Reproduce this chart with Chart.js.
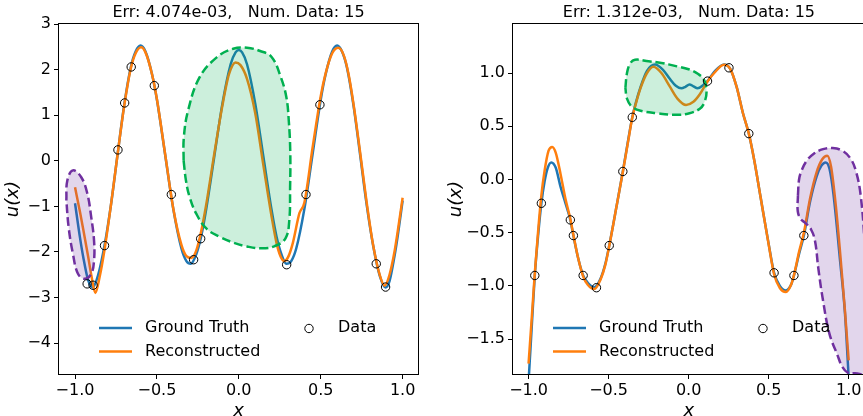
<!DOCTYPE html>
<html lang="en">
<head>
<meta charset="UTF-8" />
<title>Ground truth vs reconstruction</title>
<script src="https://cdn.jsdelivr.net/npm/chart.js@4.4.1/dist/chart.umd.min.js"></script>
<style>
  html, body { margin: 0; padding: 0; background: #fff; overflow: hidden; width: 863px; height: 416px; }
  canvas { position: absolute; top: 0; }
  #c1 { left: 0; }
  #c2 { left: 430px; }
</style>
</head>
<body>
<canvas id="c1" width="430" height="416"></canvas>
<canvas id="c2" width="441" height="416"></canvas>
<script>
const FONT = "'DejaVu Sans', sans-serif"
const BLUE = "#1f77b4"
const ORANGE = "#ff7f0e"
const legendLabels = ["Ground Truth", "Reconstructed", "Data"]

// ---- left panel ----
const leftTitle = "Err: 4.074e-03,   Num. Data: 15"
const leftXTicks = [-1, -0.5, 0, 0.5, 1]
const leftYTicks = [-4, -3, -2, -1, 0, 1, 2, 3]
const leftTruth = [
  [-1.00, -0.93], [-0.97, -1.68], [-0.95, -2.11], [-0.92, -2.62], [-0.893, -2.78], [-0.86, -2.52],
  [-0.82, -1.86], [-0.78, -0.95], [-0.74, 0.15], [-0.70, 1.22], [-0.66, 2.05], [-0.63, 2.40],
  [-0.60, 2.53], [-0.57, 2.40], [-0.53, 1.90], [-0.50, 1.34], [-0.45, 0.14], [-0.40, -1.06],
  [-0.35, -1.93], [-0.32, -2.20], [-0.294, -2.26], [-0.26, -2.05], [-0.23, -1.66], [-0.20, -1.08],
  [-0.15, 0.09], [-0.10, 1.26], [-0.05, 2.12], [-0.02, 2.38], [0.00, 2.43], [0.02, 2.38],
  [0.05, 2.12], [0.10, 1.26], [0.15, 0.09], [0.20, -1.08], [0.23, -1.66], [0.26, -2.05],
  [0.29, -2.26], [0.32, -2.20], [0.35, -1.93], [0.40, -1.06], [0.45, 0.14], [0.50, 1.34],
  [0.53, 1.90], [0.57, 2.40], [0.60, 2.53], [0.63, 2.40], [0.66, 2.05], [0.70, 1.22],
  [0.74, 0.15], [0.78, -0.95], [0.82, -1.86], [0.86, -2.52], [0.896, -2.78], [0.92, -2.64],
  [0.95, -2.10], [0.97, -1.65], [1.00, -0.87]
]
const leftRecon = [
  [-1.00, -0.58], [-0.97, -1.12], [-0.95, -1.50], [-0.92, -2.10], [-0.90, -2.52], [-0.876, -2.90],
  [-0.85, -2.55], [-0.82, -1.95], [-0.78, -0.95], [-0.74, 0.15], [-0.70, 1.20], [-0.66, 2.02],
  [-0.63, 2.36], [-0.597, 2.49], [-0.57, 2.38], [-0.53, 1.90], [-0.50, 1.35], [-0.45, 0.15],
  [-0.40, -1.05], [-0.35, -1.85], [-0.32, -2.09], [-0.29, -2.13], [-0.26, -1.97], [-0.23, -1.55],
  [-0.20, -0.98], [-0.15, 0.15], [-0.10, 1.22], [-0.06, 1.90], [-0.02, 2.16], [0.01, 2.10],
  [0.05, 1.80], [0.10, 1.05], [0.15, -0.10], [0.20, -1.22], [0.23, -1.80], [0.255, -2.10],
  [0.277, -2.20], [0.30, -2.12], [0.33, -1.80], [0.37, -1.15], [0.40, -0.92], [0.45, 0.28],
  [0.50, 1.42], [0.53, 1.92], [0.57, 2.36], [0.607, 2.48], [0.64, 2.32], [0.67, 1.90],
  [0.70, 1.25], [0.74, 0.20], [0.78, -0.90], [0.82, -1.85], [0.86, -2.50], [0.89, -2.74],
  [0.92, -2.50], [0.95, -2.00], [0.97, -1.55], [1.00, -0.81]
]
const leftData = [
  [-0.926, -2.70], [-0.89, -2.73], [-0.82, -1.86], [-0.738, 0.24], [-0.697, 1.27],
  [-0.657, 2.06], [-0.516, 1.65], [-0.412, -0.74], [-0.276, -2.17], [-0.233, -1.71],
  [0.292, -2.28], [0.41, -0.74], [0.495, 1.23], [0.839, -2.26], [0.896, -2.77]
]
const leftGreen = [
  [-0.337, 0.0], [-0.336, 0.5], [-0.31, 1.10], [-0.24, 1.83], [-0.135, 2.27], [-0.034, 2.46],
  [0.05, 2.48], [0.13, 2.41], [0.20, 2.28], [0.255, 1.85], [0.29, 1.40], [0.305, 0.88],
  [0.314, 0.2], [0.313, -0.6], [0.308, -1.31], [0.285, -1.70], [0.22, -1.87], [0.14, -1.92],
  [0.05, -1.88], [-0.03, -1.80], [-0.12, -1.66], [-0.197, -1.49], [-0.26, -1.16], [-0.30, -0.80],
  [-0.322, -0.45], [-0.337, 0.0]
]
const leftPurple = [
  [-1.053, -0.87], [-1.047, -0.43], [-1.013, -0.21], [-0.962, -0.36], [-0.925, -0.72],
  [-0.901, -1.24], [-0.884, -1.75], [-0.884, -2.19], [-0.901, -2.48], [-0.941, -2.59],
  [-0.982, -2.48], [-1.013, -2.04], [-1.039, -1.46], [-1.053, -0.87]
]

// ---- right panel ----
const rightTitle = "Err: 1.312e-03,   Num. Data: 15"
const rightXTicks = [-1, -0.5, 0, 0.5, 1]
const rightYTicks = [-1.5, -1, -0.5, 0, 0.5, 1]
const rightTruth = [
  [-1.00, -1.90], [-0.98, -1.38], [-0.961, -0.90], [-0.94, -0.52], [-0.92, -0.224], [-0.90, -0.02],
  [-0.88, 0.11], [-0.858, 0.16], [-0.83, 0.11], [-0.80, -0.07], [-0.77, -0.22], [-0.739, -0.38],
  [-0.72, -0.527], [-0.69, -0.74], [-0.659, -0.902], [-0.63, -0.97], [-0.59, -1.012], [-0.55, -0.93],
  [-0.52, -0.79], [-0.496, -0.621], [-0.45, -0.25], [-0.411, 0.075], [-0.38, 0.35], [-0.352, 0.584],
  [-0.33, 0.72], [-0.30, 0.87], [-0.26, 1.02], [-0.21, 1.08], [-0.16, 1.03], [-0.12, 0.95],
  [-0.08, 0.88], [-0.045, 0.856], [-0.02, 0.87], [0.005, 0.893], [0.03, 0.875], [0.056, 0.856],
  [0.09, 0.885], [0.118, 0.924], [0.16, 1.01], [0.221, 1.08], [0.26, 1.04], [0.30, 0.87],
  [0.34, 0.62], [0.376, 0.431], [0.41, 0.18], [0.45, -0.17], [0.50, -0.605], [0.534, -0.877],
  [0.57, -1.00], [0.608, -1.042], [0.64, -0.99], [0.658, -0.902], [0.69, -0.70], [0.72, -0.527],
  [0.76, -0.20], [0.80, 0.03], [0.83, 0.13], [0.856, 0.159], [0.88, 0.10], [0.905, -0.14],
  [0.946, -0.76], [0.977, -1.26], [1.00, -1.86]
]
const rightRecon = [
  [-1.00, -1.73], [-0.98, -1.30], [-0.961, -0.88], [-0.94, -0.48], [-0.92, -0.15], [-0.90, 0.08],
  [-0.875, 0.27], [-0.852, 0.306], [-0.83, 0.25], [-0.80, 0.05], [-0.77, -0.18], [-0.739, -0.37],
  [-0.72, -0.52], [-0.69, -0.74], [-0.659, -0.91], [-0.63, -0.99], [-0.59, -1.03], [-0.55, -0.94],
  [-0.52, -0.80], [-0.496, -0.625], [-0.45, -0.25], [-0.411, 0.07], [-0.38, 0.34], [-0.352, 0.58],
  [-0.33, 0.71], [-0.30, 0.86], [-0.26, 1.00], [-0.22, 1.058], [-0.17, 1.00], [-0.12, 0.88],
  [-0.07, 0.76], [-0.016, 0.70], [0.03, 0.73], [0.07, 0.80], [0.118, 0.92], [0.16, 1.00],
  [0.221, 1.078], [0.26, 1.04], [0.30, 0.87], [0.34, 0.62], [0.376, 0.431], [0.41, 0.18],
  [0.45, -0.17], [0.50, -0.61], [0.534, -0.89], [0.57, -1.02], [0.608, -1.057], [0.64, -0.99],
  [0.658, -0.90], [0.69, -0.68], [0.72, -0.50], [0.76, -0.17], [0.80, 0.07], [0.835, 0.19],
  [0.866, 0.222], [0.89, 0.12], [0.92, -0.25], [0.95, -0.75], [0.975, -1.20], [1.00, -1.70]
]
const rightData = [
  [-0.961, -0.902], [-0.920, -0.224], [-0.739, -0.380], [-0.720, -0.527], [-0.659, -0.902],
  [-0.576, -1.017], [-0.496, -0.621], [-0.411, 0.075], [-0.352, 0.584], [0.118, 0.924],
  [0.252, 1.049], [0.376, 0.431], [0.534, -0.877], [0.658, -0.902], [0.720, -0.527]
]
const rightGreen = [
  [-0.395, 0.86], [-0.385, 1.0], [-0.365, 1.09], [-0.335, 1.125], [-0.25, 1.11], [-0.17, 1.095],
  [-0.08, 1.065], [0.0, 1.035], [0.06, 0.99], [0.095, 0.94], [0.112, 0.84], [0.10, 0.73],
  [0.07, 0.665], [0.0, 0.62], [-0.08, 0.607], [-0.2, 0.622], [-0.3, 0.645], [-0.355, 0.685],
  [-0.385, 0.76], [-0.395, 0.86]
]
const rightPurple = [
  [0.683, -0.15], [0.69, 0.0], [0.705, 0.08], [0.735, 0.17], [0.78, 0.24], [0.84, 0.285],
  [0.90, 0.295], [0.96, 0.27], [1.01, 0.20], [1.045, 0.08], [1.075, -0.15], [1.10, -0.6],
  [1.12, -1.2], [1.12, -1.82], [1.04, -1.82], [0.994, -1.815], [0.96, -1.76], [0.93, -1.65],
  [0.88, -1.45], [0.84, -1.14], [0.81, -0.83], [0.79, -0.58], [0.765, -0.47], [0.73, -0.41],
  [0.70, -0.37], [0.682, -0.30], [0.683, -0.15]
]

const pts = arr => arr.map(([x, y]) => ({ x, y }))
const minus = s => s.replace("-", "\u2212")

// black box around the axes + matplotlib-like legend inside the plot
const framePlugin = {
  id: "frame",
  afterDraw(chart) {
    const { ctx, chartArea: a } = chart
    ctx.save()
    ctx.strokeStyle = "#000"
    ctx.lineWidth = 1
    ctx.strokeRect(Math.round(a.left) + 0.5, Math.round(a.top) + 0.5,
      Math.round(a.right - a.left) - 1, Math.round(a.bottom - a.top) - 1)

    const y1 = a.bottom - 47
    const y2 = a.bottom - 23.5
    ctx.lineWidth = 2.5
    ctx.strokeStyle = BLUE
    ctx.beginPath(); ctx.moveTo(a.left + 41, y1); ctx.lineTo(a.left + 74, y1); ctx.stroke()
    ctx.strokeStyle = ORANGE
    ctx.beginPath(); ctx.moveTo(a.left + 41, y2); ctx.lineTo(a.left + 74, y2); ctx.stroke()
    ctx.lineWidth = 1
    ctx.strokeStyle = "#000"
    ctx.beginPath(); ctx.arc(a.left + 251, y1 + 0.5, 4.2, 0, Math.PI * 2); ctx.stroke()

    ctx.fillStyle = "#000"
    ctx.font = "16px " + FONT
    ctx.textBaseline = "middle"
    ctx.textAlign = "left"
    ctx.fillText(legendLabels[0], a.left + 87, y1)
    ctx.fillText(legendLabels[1], a.left + 87, y2)
    ctx.fillText(legendLabels[2], a.left + 280, y1)
    ctx.restore()
  },
}

function makePanel(id, p) {
  const shape = (data, stroke, fill) => ({
    data: pts(data),
    borderColor: stroke,
    backgroundColor: fill,
    borderWidth: 2.5,
    borderDash: [9, 4],
    fill: "shape",
    tension: 0.4,
    pointRadius: 0,
    order: 1,
  })
  const curve = (data, color, order) => ({
    data: pts(data),
    borderColor: color,
    borderWidth: 2.5,
    cubicInterpolationMode: "monotone",
    pointRadius: 0,
    fill: false,
    order,
  })

  new Chart(document.getElementById(id), {
    type: "line",
    data: {
      datasets: [
        {
          data: pts(p.data),
          showLine: false,
          pointRadius: 4.2,
          pointBorderWidth: 1,
          pointBorderColor: "#000",
          pointBackgroundColor: "rgba(0,0,0,0)",
          order: 0,
        },
        shape(p.green, "#00b050", "rgba(0,176,80,0.2)"),
        shape(p.purple, "#7030a0", "rgba(112,48,160,0.2)"),
        curve(p.recon, ORANGE, 3),
        curve(p.truth, BLUE, 4),
      ],
    },
    options: {
      responsive: false,
      animation: false,
      layout: { padding: { left: 0, right: p.padRight, top: 0, bottom: 0 } },
      plugins: {
        legend: { display: false },
        tooltip: { enabled: false },
        title: {
          display: true,
          text: p.title,
          fullSize: false,
          color: "#000",
          font: { family: FONT, size: 16, weight: "normal", lineHeight: 1.2 },
          padding: { top: 3, bottom: 1 },
        },
      },
      scales: {
        x: {
          type: "linear",
          min: p.xMin,
          max: p.xMax,
          afterBuildTicks: s => { s.ticks = p.xTicks.map(v => ({ value: v })) },
          afterFit: s => { s.height = 41 },
          grid: { drawOnChartArea: false, drawTicks: true, tickLength: 4, color: "#000" },
          border: { display: false },
          ticks: {
            color: "#000",
            padding: 2,
            maxRotation: 0,
            font: { family: FONT, size: 16 },
            callback: v => minus(v.toFixed(1)),
          },
          title: {
            display: true,
            text: "x",
            color: "#000",
            padding: 0,
            font: { family: FONT, size: 18, style: "italic", lineHeight: 0.5 },
          },
        },
        y: {
          type: "linear",
          min: p.yMin,
          max: p.yMax,
          afterBuildTicks: s => { s.ticks = p.yTicks.map(v => ({ value: v })) },
          afterFit: s => { s.width = p.axisWidth },
          grid: { drawOnChartArea: false, drawTicks: true, tickLength: 4, color: "#000" },
          border: { display: false },
          ticks: {
            color: "#000",
            padding: 3,
            font: { family: FONT, size: 16 },
            callback: v => minus(p.yFmt(v)),
          },
          title: {
            display: true,
            text: "u(x)",
            color: "#000",
            padding: { top: p.yTitlePad, bottom: 0 },
            font: { family: FONT, size: 18, style: "italic", lineHeight: 1.2 },
          },
        },
      },
    },
    plugins: [framePlugin],
  })
}

makePanel("c1", {
  title: leftTitle, truth: leftTruth, recon: leftRecon, data: leftData,
  green: leftGreen, purple: leftPurple,
  xTicks: leftXTicks, yTicks: leftYTicks, xMin: -1.104, xMax: 1.1, yMin: -4.7, yMax: 3.02,
  yFmt: v => String(v), axisWidth: 58, padRight: 11, yTitlePad: 3,
})

makePanel("c2", {
  title: rightTitle, truth: rightTruth, recon: rightRecon, data: rightData,
  green: rightGreen, purple: rightPurple,
  xTicks: rightXTicks, yTicks: rightYTicks, xMin: -1.1035, xMax: 1.107, yMin: -1.837, yMax: 1.468,
  yFmt: v => v.toFixed(1), axisWidth: 82, padRight: 1, yTitlePad: 16,
})
</script>
</body>
</html>
